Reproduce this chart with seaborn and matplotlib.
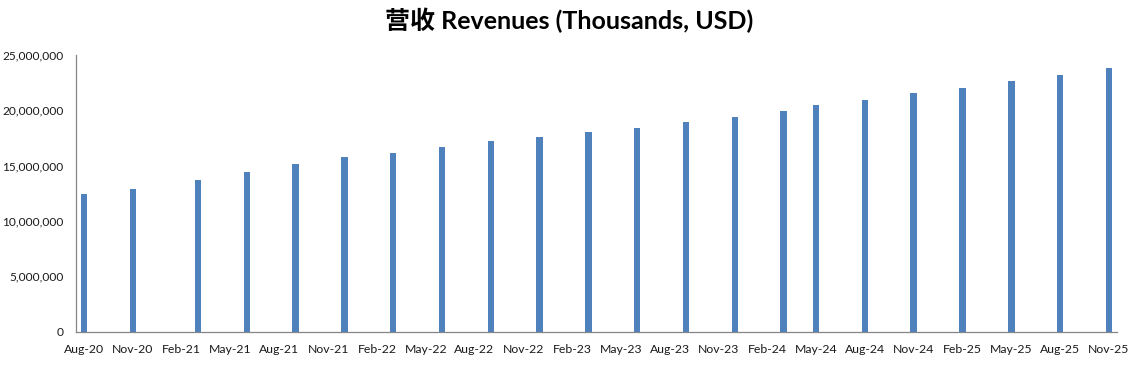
"""
Revenue bar chart on a monthly date axis (Excel-style).
"""

import matplotlib
matplotlib.use("Agg")
import matplotlib.pyplot as plt
import matplotlib.ticker as mticker
import pandas as pd
import seaborn as sns

# Report months of each bar and revenue (thousands USD)
report_months = [
    "2020-08", "2020-11", "2021-03", "2021-06", "2021-09", "2021-12",
    "2022-03", "2022-06", "2022-09", "2022-12", "2023-03", "2023-06",
    "2023-09", "2023-12", "2024-03", "2024-05", "2024-08", "2024-11",
    "2025-02", "2025-05", "2025-08", "2025-11",
]
revenues = [
    12430000, 12880000, 13690000, 14410000, 15130000, 15770000,
    16130000, 16670000, 17210000, 17570000, 18020000, 18380000,
    18920000, 19370000, 19910000, 20460000, 20910000, 21540000,
    21990000, 22620000, 23170000, 23800000,
]
axis_start = "2020-08"
axis_end = "2025-11"
tick_step_months = 3
y_ticks = [0, 5000000, 10000000, 15000000, 20000000, 25000000]
title = "营收 Revenues (Thousands, USD)"

BAR_COLOR = "#4F81BD"
AXIS_COLOR = "#868686"
BAR_WIDTH_MONTHS = 0.4


def month_index(label, start=axis_start):
    p = pd.Period(label, freq="M")
    return (p - pd.Period(start, freq="M")).n


sns.set_style("white")
plt.rcParams["font.family"] = ["Lato", "Noto Sans CJK SC", "DejaVu Sans"]

df = pd.DataFrame({"month": report_months, "revenue": revenues})
# each month is one slot on the axis; bars sit in the middle of their slot
df["pos"] = df["month"].map(month_index) + 0.5

n_slots = month_index(axis_end) + 1

fig = plt.figure(figsize=(11.39, 3.69), dpi=100)
ax = fig.add_axes([0.0667, 0.101, 0.9140, 0.751])

sns.barplot(data=df, x="pos", y="revenue", native_scale=True,
            color=BAR_COLOR, saturation=1, width=0.2, linewidth=0,
            edgecolor=BAR_COLOR, ax=ax)

# fix bar width in axis units (months), keeping each bar centred
for patch in ax.patches:
    cx = patch.get_x() + patch.get_width() / 2
    patch.set_width(BAR_WIDTH_MONTHS)
    patch.set_x(cx - BAR_WIDTH_MONTHS / 2)

ax.set_xlim(0, n_slots)
ax.set_ylim(y_ticks[0], y_ticks[-1])

# tick marks at slot boundaries, labels in the middle of the slot
tick_idx = list(range(0, n_slots, tick_step_months))
tick_labels = [(pd.Period(axis_start, freq="M") + i).strftime("%b-%y")
               for i in tick_idx]
ax.set_xticks([i + 0.5 for i in tick_idx])
ax.set_xticklabels(tick_labels)
ax.set_xticks(tick_idx, minor=True)
ax.tick_params(axis="x", which="major", length=0, pad=9,
               labelsize=8.8, labelcolor="#1a1a1a")
ax.tick_params(axis="x", which="minor", length=4, width=0.8,
               color=AXIS_COLOR, direction="out")

ax.set_yticks(y_ticks)
ax.yaxis.set_major_formatter(mticker.FuncFormatter(lambda v, _: f"{v:,.0f}"))
ax.tick_params(axis="y", length=4, width=0.8, color=AXIS_COLOR,
               direction="out", pad=5, labelsize=8.6, labelcolor="#1a1a1a")

ax.set_xlabel("")
ax.set_ylabel("")
ax.grid(False)
for side in ["top", "right"]:
    ax.spines[side].set_visible(False)
for side in ["left", "bottom"]:
    ax.spines[side].set_color(AXIS_COLOR)
    ax.spines[side].set_linewidth(0.9)

fig.suptitle(title, x=0.5, y=0.978, fontsize=18, fontweight="bold",
             va="top", color="black")

fig.savefig("out.png", dpi=100)
